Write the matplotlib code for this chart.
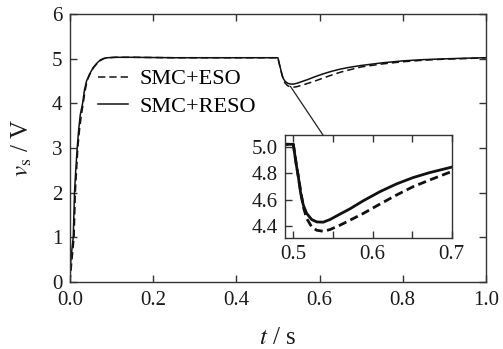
import matplotlib
matplotlib.use("Agg")
import matplotlib.pyplot as plt
from matplotlib.patches import ConnectionPatch
from matplotlib.ticker import MultipleLocator, FormatStrFormatter

plt.rcParams['font.family'] = ['Liberation Serif', 'DejaVu Serif']
plt.rcParams['mathtext.fontset'] = 'stix'

# SMC+RESO (solid)
t_reso = [0.0, 0.002, 0.005, 0.008, 0.011, 0.014, 0.0175, 0.021, 0.025, 0.0305, 0.035, 0.040,
          0.047, 0.056, 0.065, 0.073, 0.080, 0.090, 0.110, 0.150, 0.250, 0.350, 0.450, 0.500,
          0.5034, 0.5063, 0.5093, 0.5126, 0.5169, 0.5232, 0.5295, 0.5378, 0.5463, 0.5589,
          0.5715, 0.5883, 0.6093, 0.6304, 0.6513, 0.6724, 0.700, 0.750, 0.800, 0.850, 0.900,
          0.950, 1.000]
v_reso = [0.0, 0.45, 0.75, 1.0, 2.0, 2.5, 3.0, 3.4, 3.75, 4.0, 4.3, 4.5,
          4.65, 4.8, 4.9, 4.97, 5.0, 5.02, 5.03, 5.03, 5.02, 5.02, 5.02, 5.02,
          4.878, 4.776, 4.649, 4.560, 4.496, 4.450, 4.432, 4.430, 4.450, 4.491,
          4.531, 4.592, 4.661, 4.720, 4.768, 4.806, 4.847, 4.905, 4.950, 4.978, 4.995,
          5.01, 5.02]

# SMC+ESO (dashed)
t_eso = [0.0, 0.003, 0.006, 0.010, 0.013, 0.016, 0.019, 0.023, 0.027, 0.032, 0.036, 0.041,
         0.048, 0.057, 0.066, 0.074, 0.081, 0.090, 0.110, 0.150, 0.250, 0.350, 0.450, 0.500,
         0.5042, 0.5084, 0.5126, 0.5169, 0.5232, 0.5295, 0.5378, 0.5463, 0.5589, 0.5715,
         0.5883, 0.6093, 0.6304, 0.6513, 0.6724, 0.700, 0.750, 0.800, 0.850, 0.900, 0.950,
         1.000]
v_eso = [0.0, 0.3, 0.6, 1.0, 2.0, 2.5, 3.0, 3.4, 3.7, 4.0, 4.25, 4.5,
         4.65, 4.8, 4.9, 4.96, 5.0, 5.02, 5.03, 5.03, 5.02, 5.02, 5.02, 5.02,
         4.852, 4.699, 4.547, 4.458, 4.394, 4.369, 4.361, 4.374, 4.407, 4.445,
         4.496, 4.567, 4.636, 4.699, 4.750, 4.814, 4.880, 4.930, 4.965, 4.988, 5.0,
         5.02]

labels = ['SMC+ESO', 'SMC+RESO']
xlabel = r'$t$ / s'
ylabel = r'$v_{\mathrm{s}}$ / V'

fig = plt.figure(figsize=(5.03, 3.49), dpi=100)
ax = fig.add_axes([0.139, 0.192, 0.827, 0.768])
spine_c = '#333333'
txt_c = '#1a1a1a'

ax.plot(t_eso, v_eso, color='#111111', lw=1.1, ls=(0, (4.8, 2.6)), label=labels[0])
ax.plot(t_reso, v_reso, color='#111111', lw=1.1, ls='-', label=labels[1])
ax.set_xlim(0, 1.0)
ax.set_ylim(0, 6)
ax.xaxis.set_major_locator(MultipleLocator(0.2))
ax.xaxis.set_major_formatter(FormatStrFormatter('%.1f'))
ax.yaxis.set_major_locator(MultipleLocator(1))
ax.tick_params(direction='in', top=True, right=True, length=5, width=1.0,
               labelsize=15, color=spine_c, labelcolor=txt_c)
ax.tick_params(axis='x', pad=6.5)
ax.tick_params(axis='y', pad=5.5)
for s in ax.spines.values():
    s.set_color(spine_c)
    s.set_linewidth(1.0)
ax.set_xlabel(xlabel, fontsize=18, labelpad=12, color=txt_c)
ax.set_ylabel(ylabel, fontsize=18, labelpad=13, color=txt_c)
leg = ax.legend(loc='upper left', bbox_to_anchor=(0.068, 0.795), frameon=False,
                fontsize=16, handlelength=1.35, handletextpad=0.5, labelspacing=0.3,
                borderaxespad=0, borderpad=0)

axi = fig.add_axes([0.5666, 0.318, 0.3314, 0.295])
axi.plot(t_eso, v_eso, color='#111111', lw=2.0, ls=(0, (3.0, 1.6)))
axi.plot(t_reso, v_reso, color='#111111', lw=2.0, ls='-')
axi.set_xlim(0.4895, 0.70)
axi.set_ylim(4.31, 5.09)
axi.xaxis.set_major_locator(MultipleLocator(0.1))
axi.xaxis.set_minor_locator(MultipleLocator(0.05))
axi.xaxis.set_major_formatter(FormatStrFormatter('%.1f'))
axi.yaxis.set_major_locator(MultipleLocator(0.2))
axi.yaxis.set_major_formatter(FormatStrFormatter('%.1f'))
axi.tick_params(which='both', direction='in', top=True, length=5, width=1.0,
                labelsize=15, color=spine_c, labelcolor=txt_c, pad=5)
axi.tick_params(which='minor', top=True, bottom=True)
for s in axi.spines.values():
    s.set_color(spine_c)
    s.set_linewidth(1.0)

con = ConnectionPatch(xyA=(0.53, 4.38), coordsA=ax.transData,
                      xyB=(0.5375, 5.09), coordsB=axi.transData,
                      color='#222222', lw=0.9)
fig.add_artist(con)

fig.savefig('out.png', dpi=100)
